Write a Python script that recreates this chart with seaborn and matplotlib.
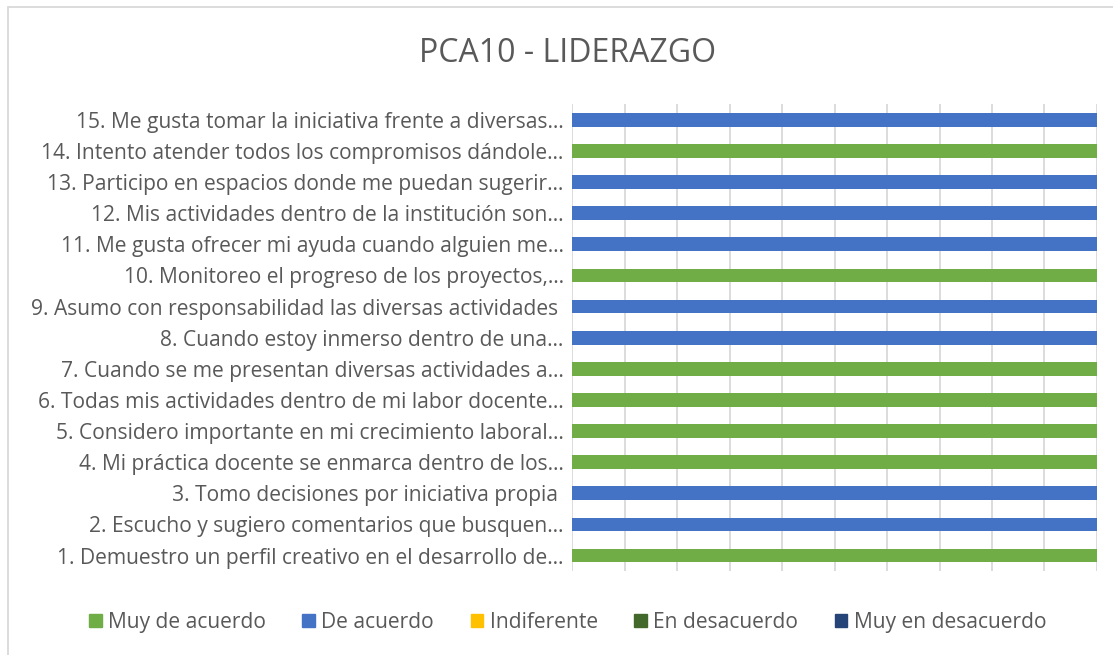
import pandas as pd
import matplotlib.pyplot as plt
import seaborn as sns
from matplotlib.patches import Rectangle

# Preguntas (etiquetas tal como aparecen, recortadas)
preguntas = [
    "1. Demuestro un perfil creativo en el desarrollo de…",
    "2. Escucho y sugiero comentarios que busquen…",
    "3. Tomo decisiones por iniciativa propia ",
    "4. Mi práctica docente se enmarca dentro de los…",
    "5. Considero importante en mi crecimiento laboral…",
    "6. Todas mis actividades dentro de mi labor docente…",
    "7. Cuando se me presentan diversas actividades a…",
    "8. Cuando estoy inmerso dentro de una…",
    "9. Asumo con responsabilidad las diversas actividades ",
    "10. Monitoreo el progreso de los proyectos,…",
    "11. Me gusta ofrecer mi ayuda cuando alguien me…",
    "12. Mis actividades dentro de la institución son…",
    "13. Participo en espacios donde me puedan sugerir…",
    "14. Intento atender todos los compromisos dándole…",
    "15. Me gusta tomar la iniciativa frente a diversas…",
]

# Porcentaje de respuestas por categoría (preguntas 1 a 15)
muy_de_acuerdo = [100, 0, 0, 100, 100, 100, 100, 0, 0, 100, 0, 0, 0, 100, 0]
de_acuerdo = [0, 100, 100, 0, 0, 0, 0, 100, 100, 0, 100, 100, 100, 0, 100]
indiferente = [0] * 15
en_desacuerdo = [0] * 15
muy_en_desacuerdo = [0] * 15

categorias = ["Muy de acuerdo", "De acuerdo", "Indiferente", "En desacuerdo", "Muy en desacuerdo"]
colores = ["#70AD47", "#4472C4", "#FFC000", "#43682B", "#264478"]
series = [muy_de_acuerdo, de_acuerdo, indiferente, en_desacuerdo, muy_en_desacuerdo]

df = pd.DataFrame(dict(zip(categorias, series)), index=preguntas)
acum = df.cumsum(axis=1)

gris = "#595959"
sns.set_theme(style="white")
plt.rcParams["font.family"] = ["Open Sans", "DejaVu Sans"]

fig = plt.figure(figsize=(11.13, 6.55), dpi=100)
ax = fig.add_axes([0.514, 0.128, 0.4716, 0.713])

orden = preguntas[::-1]
# apilado: se dibuja el acumulado mayor primero y se tapan los menores
for cat, col in list(zip(categorias, colores))[::-1]:
    datos = pd.DataFrame({"pregunta": preguntas, "valor": acum[cat].values})
    sns.barplot(data=datos, y="pregunta", x="valor", order=orden, color=col,
                width=0.44, linewidth=0, saturation=1, ax=ax, errorbar=None)

ax.set_xlim(0, 100)
ax.set_xticks(range(0, 101, 10))
ax.set_xticklabels([])
ax.tick_params(axis="x", length=0)
ax.tick_params(axis="y", length=0, pad=6, labelsize=15.1, labelcolor=gris)
ax.grid(axis="x", color="#D9D9D9", linewidth=1.3)
ax.set_axisbelow(True)
ax.set_xlabel("")
ax.set_ylabel("")
for s in ax.spines.values():
    s.set_visible(False)

fig.text(0.51, 0.918, "PCA10 - LIDERAZGO", ha="center", va="center",
         fontsize=23, color=gris)

handles = [Rectangle((0, 0), 1, 1, color=c) for c in colores]
fig.legend(handles, categorias, loc="center", bbox_to_anchor=(0.51, 0.05),
           ncol=5, frameon=False, fontsize=15.1, labelcolor=gris,
           handlelength=0.6, handleheight=0.6, handletextpad=0.3,
           columnspacing=1.75)

fig.patches.append(Rectangle((8 / 1113, -0.02), 1.1, 1 - 7 / 655 + 0.02,
                             transform=fig.transFigure, fill=False,
                             edgecolor="#D9D9D9", linewidth=1.3))

fig.savefig("out.png", dpi=100)
